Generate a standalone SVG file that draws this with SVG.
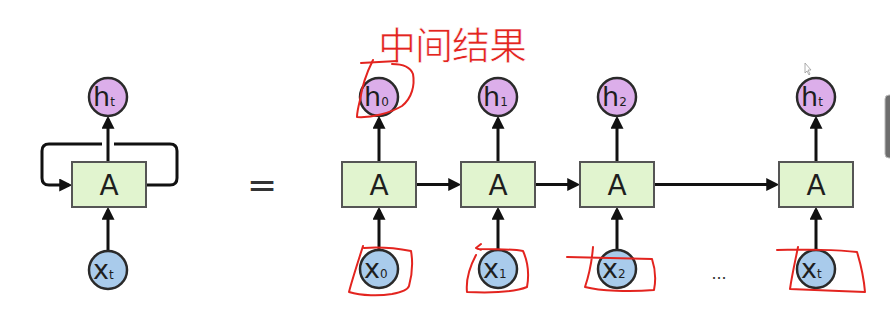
<svg xmlns="http://www.w3.org/2000/svg" width="890" height="335" viewBox="0 0 890 335">
<style>
.box{fill:#e1f4cf;stroke:#555;stroke-width:2}
.hc{fill:#dcaeea;stroke:#2a2a2a;stroke-width:2.5}
.xc{fill:#a9cbeb;stroke:#2a2a2a;stroke-width:2.5}
.lbl{font-family:"DejaVu Sans",sans-serif;fill:#1e1e1e}
.big{font-size:27px}
.sub{font-size:12px}
.A{font-family:"DejaVu Sans",sans-serif;font-size:28px;fill:#1e1e1e;text-anchor:middle}
.con{fill:none;stroke:#111;stroke-width:3}
.red{fill:none;stroke:#e3241f;stroke-width:2;stroke-linecap:round;stroke-linejoin:round}
</style>
<defs>
<marker id="arr" viewBox="0 0 12 12" markerUnits="userSpaceOnUse" markerWidth="13" markerHeight="13" refX="9" refY="6" orient="auto">
<path d="M0,0 L12,6 L0,12 z" fill="#111"/>
</marker>
</defs>
<rect width="890" height="335" fill="#fff"/>

<!-- connectors -->
<g id="connectors">
<line class="con" x1="108" y1="162" x2="108" y2="119" marker-end="url(#arr)"/>
<line class="con" x1="108" y1="251" x2="108" y2="210" marker-end="url(#arr)"/>
<path class="con" d="M146,185 H170 Q177,185 177,178 V151 Q177,144 170,144 H114"/>
<path class="con" d="M102,144 H49 Q42,144 42,151 V178 Q42,185 49,185 H69" marker-end="url(#arr)"/>
<line class="con" x1="379" y1="162" x2="379" y2="119" marker-end="url(#arr)"/>
<line class="con" x1="498" y1="162" x2="498" y2="119" marker-end="url(#arr)"/>
<line class="con" x1="617" y1="162" x2="617" y2="119" marker-end="url(#arr)"/>
<line class="con" x1="816" y1="162" x2="816" y2="119" marker-end="url(#arr)"/>
<line class="con" x1="379" y1="250" x2="379" y2="210" marker-end="url(#arr)"/>
<line class="con" x1="498" y1="250" x2="498" y2="210" marker-end="url(#arr)"/>
<line class="con" x1="617" y1="250" x2="617" y2="210" marker-end="url(#arr)"/>
<line class="con" x1="816" y1="250" x2="816" y2="210" marker-end="url(#arr)"/>
<line class="con" x1="416" y1="184.5" x2="458" y2="184.5" marker-end="url(#arr)"/>
<line class="con" x1="535" y1="184.5" x2="577" y2="184.5" marker-end="url(#arr)"/>
<line class="con" x1="654" y1="184.5" x2="776" y2="184.5" marker-end="url(#arr)"/>
</g>

<!-- folded cell -->
<g id="A_loop"><rect class="box" x="72" y="162" width="74" height="45"/><text class="A" x="109" y="195">A</text></g>
<g id="h_t_left"><circle class="hc" cx="108" cy="97" r="19"/><text class="lbl" x="93" y="106"><tspan class="big">h</tspan><tspan class="sub">t</tspan></text></g>
<g id="x_t_left"><circle class="xc" cx="108" cy="270" r="19"/><text class="lbl" x="93" y="279"><tspan class="big">x</tspan><tspan class="sub">t</tspan></text></g>

<text x="262" y="197" font-family="DejaVu Sans, sans-serif" font-size="36" fill="#333" text-anchor="middle">=</text>

<!-- unrolled -->
<g id="A0"><rect class="box" x="342" y="162" width="74" height="45"/><text class="A" x="379" y="195">A</text></g>
<g id="A1"><rect class="box" x="461" y="162" width="74" height="45"/><text class="A" x="498" y="195">A</text></g>
<g id="A2"><rect class="box" x="580" y="162" width="74" height="45"/><text class="A" x="617" y="195">A</text></g>
<g id="At"><rect class="box" x="779" y="162" width="74" height="45"/><text class="A" x="816" y="195">A</text></g>

<g id="h0"><circle class="hc" cx="379" cy="97" r="19"/><text class="lbl" x="364" y="106"><tspan class="big">h</tspan><tspan class="sub">0</tspan></text></g>
<g id="h1"><circle class="hc" cx="498" cy="97" r="19"/><text class="lbl" x="483" y="106"><tspan class="big">h</tspan><tspan class="sub">1</tspan></text></g>
<g id="h2"><circle class="hc" cx="617" cy="97" r="19"/><text class="lbl" x="602" y="106"><tspan class="big">h</tspan><tspan class="sub">2</tspan></text></g>
<g id="ht"><circle class="hc" cx="816" cy="97" r="19"/><text class="lbl" x="801" y="106"><tspan class="big">h</tspan><tspan class="sub">t</tspan></text></g>

<g id="x0"><circle class="xc" cx="379" cy="269" r="19"/><text class="lbl" x="364" y="278"><tspan class="big">x</tspan><tspan class="sub">0</tspan></text></g>
<g id="x1"><circle class="xc" cx="498" cy="269" r="19"/><text class="lbl" x="483" y="278"><tspan class="big">x</tspan><tspan class="sub">1</tspan></text></g>
<g id="x2"><circle class="xc" cx="617" cy="269" r="19"/><text class="lbl" x="602" y="278"><tspan class="big">x</tspan><tspan class="sub">2</tspan></text></g>
<g id="xt"><circle class="xc" cx="816" cy="269" r="19"/><text class="lbl" x="801" y="278"><tspan class="big">x</tspan><tspan class="sub">t</tspan></text></g>

<text x="719" y="279" font-family="Liberation Sans, sans-serif" font-size="18" fill="#333" text-anchor="middle">...</text>

<!-- red annotations -->
<g id="annotation">
<text x="378" y="59" font-family="Noto Sans CJK SC, sans-serif" font-size="38" fill="#e3241f" stroke="#fff" stroke-width="0.7" letter-spacing="-1">中间结果</text>
<path class="red" d="M361,63 L397,61"/>
<path class="red" d="M373,60 C368,70 362,86 360,100 C358,108 357,113 357,117 C372,118 390,113 402,106 C412,98 415,85 413,74 C410,66 400,64 392,64"/>
<path class="red" d="M363,246 C358,262 352,280 349,292 C362,296 380,296 392,294 C402,292 408,290 409,286 C412,275 413,262 411,251 C395,248 378,247 364,248"/>
<path class="red" d="M481,244 L476,248 L481,250 M478,249 C495,249 512,249 523,251 C528,262 529,276 527,287 C515,292 490,293 467,292 C466,282 468,270 476,255"/>
<path class="red" d="M567,257 L652,259 M593,247 C592,260 590,272 585,287 C600,291 630,292 654,290 C656,280 655,268 652,259"/>
<path class="red" d="M777,250 C800,249 840,250 857,252 C861,265 864,280 865,292 C840,291 810,290 790,289 C792,275 795,262 798,247"/>
</g>

<!-- screen artefacts -->
<polygon points="805,63 805,73 807,71 809,75 810,74 808,70 811,70" fill="#fff" stroke="#999" stroke-width="0.8"/>
<rect x="885" y="95" width="10" height="63" rx="4" fill="#6e6e6e" stroke="#bbb" stroke-width="1"/>
</svg>
